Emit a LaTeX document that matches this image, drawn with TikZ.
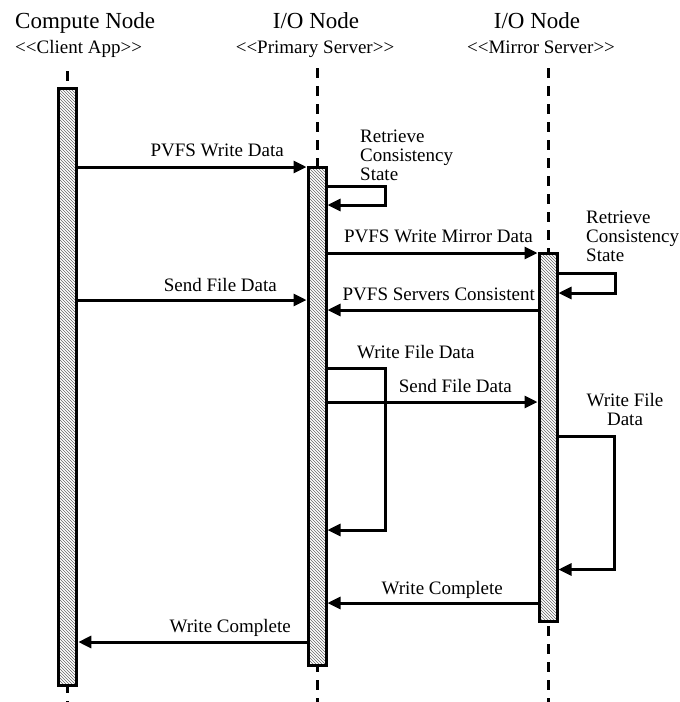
\documentclass[tikz,border=0pt]{standalone}
\usepackage{fontspec}
\setmainfont{Liberation Serif}
\usetikzlibrary{arrows.meta,patterns}
\begin{document}
\begin{tikzpicture}[x=1pt,y=-1pt,
  actbar/.style={draw, line width=3pt, preaction={fill=white}, pattern=north west lines, pattern color=black!60, minimum width=18pt, inner sep=0pt},
  msg/.style={line width=3pt, -{Triangle[length=13pt,width=12pt]}, line join=miter},
  life/.style={line width=3pt, dash pattern=on 10pt off 8pt},
  lbl/.style={font=\fontsize{19}{19}\selectfont, inner sep=0pt},
  head/.style={font=\fontsize{23}{23}\selectfont, inner sep=0pt}]
\useasboundingbox (0,0) rectangle (680,702);

% headers
\node[head, anchor=base west] (h1) at (15,28) {Compute Node};
\node[lbl, anchor=base west] (s1) at (15,53) {<{}<Client App>{}>};
\node[head, anchor=base] (h2) at (316,28) {I/O Node};
\node[lbl, anchor=base] (s2) at (315,53) {<{}<Primary Server>{}>};
\node[head, anchor=base] (h3) at (537,28) {I/O Node};
\node[lbl, anchor=base] (s3) at (541,53) {<{}<Mirror Server>{}>};

% lifelines
\coordinate (ctop) at (67.8,71);
\coordinate (cbot) at (67.8,702);
\coordinate (ptop) at (317,68);
\coordinate (pbot) at (317,702);
\coordinate (mtop) at (548,68);
\coordinate (mbot) at (548,702);
\draw[life] (ctop) -- (cbot);
\draw[life] (ptop) -- (pbot);
\draw[life] (mtop) -- (mbot);

% activation bars
\node[actbar, minimum height=597pt] (cbar) at (67.8,386.7) {};
\node[actbar, minimum height=498.8pt] (pbar) at (317,416.4) {};
\node[actbar, minimum height=368.2pt] (mbar) at (548,437.1) {};

% y levels
\coordinate (y1) at (0,167);
\coordinate (y3) at (0,253);
\coordinate (y5) at (0,300);
\coordinate (y6) at (0,310);
\coordinate (y8) at (0,402);
\coordinate (y10) at (0,603);
\coordinate (y11) at (0,642);
\coordinate (r1a) at (385,186.5);
\coordinate (r1b) at (385,205);
\coordinate (r2a) at (615,273.5);
\coordinate (r2b) at (615,293);
\coordinate (w1a) at (385,368);
\coordinate (w1b) at (385,530);
\coordinate (w2a) at (614,436);
\coordinate (w2b) at (614,569.5);

% messages
\draw[msg] (cbar.east |- y1) -- (pbar.west |- y1);
\node[lbl, anchor=base east] (l1) at (284,156) {PVFS Write Data};

\draw[msg] (pbar.east |- r1a) -- (r1a) -- (r1b) -- (pbar.east |- r1b);
\node[lbl, anchor=base west, align=left] (l2) at (360,180) {Retrieve\\Consistency\\State};

\draw[msg] (pbar.east |- y3) -- (mbar.west |- y3);
\node[lbl, anchor=base east] (l3) at (533,242) {PVFS Write Mirror Data};

\draw[msg] (mbar.east |- r2a) -- (r2a) -- (r2b) -- (mbar.east |- r2b);
\node[lbl, anchor=base west, align=left] (l4) at (586,261) {Retrieve\\Consistency\\State};

\draw[msg] (cbar.east |- y5) -- (pbar.west |- y5);
\node[lbl, anchor=base east] (l5) at (277,291) {Send File Data};

\draw[msg] (mbar.west |- y6) -- (pbar.east |- y6);
\node[lbl, anchor=base east] (l6) at (535,300) {PVFS Servers Consistent};

\draw[msg] (pbar.east |- w1a) -- (w1a) -- (w1b) -- (pbar.east |- w1b);
\node[lbl, anchor=base west] (l7) at (357,358) {Write File Data};

\draw[msg] (pbar.east |- y8) -- (mbar.west |- y8);
\node[lbl, anchor=base east] (l8) at (512,392) {Send File Data};

\draw[msg] (mbar.east |- w2a) -- (w2a) -- (w2b) -- (mbar.east |- w2b);
\node[lbl, anchor=base, align=center] (l9) at (625,425) {Write File\\Data};

\draw[msg] (mbar.west |- y10) -- (pbar.east |- y10);
\node[lbl, anchor=base east] (l10) at (503,594) {Write Complete};

\draw[msg] (pbar.west |- y11) -- (cbar.east |- y11);
\node[lbl, anchor=base east] (l11) at (291,632) {Write Complete};
\end{tikzpicture}
\end{document}
